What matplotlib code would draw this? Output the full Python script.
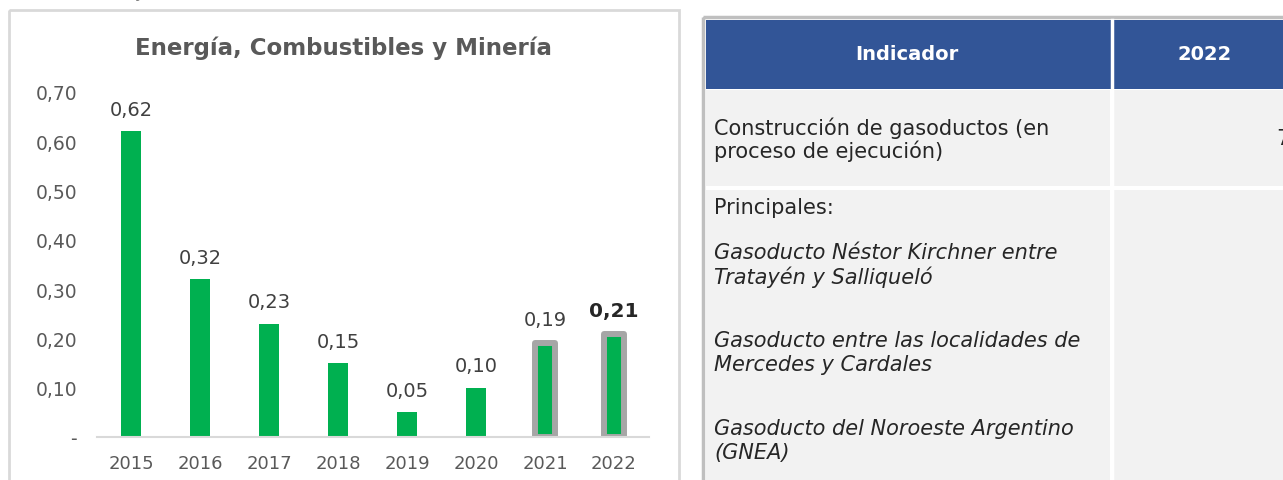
import matplotlib
matplotlib.use("Agg")
import matplotlib.pyplot as plt
from matplotlib.patches import Rectangle

# Data
years = ["2015", "2016", "2017", "2018", "2019", "2020", "2021", "2022"]
values = [0.62, 0.32, 0.23, 0.15, 0.05, 0.10, 0.19, 0.21]
highlight = [False, False, False, False, False, False, True, True]
yticks = [0, 0.1, 0.2, 0.3, 0.4, 0.5, 0.6, 0.7]
ytick_labels = ["-", "0,10", "0,20", "0,30", "0,40", "0,50", "0,60", "0,70"]
title = "Energía, Combustibles y Minería"

header = ["Indicador", "2022"]
row1_text = ["Construcción de gasoductos (en", "proceso de ejecución)"]
row1_value = "7"
row2_title = "Principales:"
row2_items = [
    ["Gasoducto Néstor Kirchner entre", "Tratayén y Salliqueló"],
    ["Gasoducto entre las localidades de", "Mercedes y Cardales"],
    ["Gasoducto del Noroeste Argentino", "(GNEA)"],
]

# Colors
green = "#00b050"
outline = "#a6a6a6"
text_gray = "#595959"
blue = "#325597"
cell_gray = "#f2f2f2"

W, H = 1283, 481
fig = plt.figure(figsize=(W / 100, H / 100), dpi=100)
plt.rcParams["font.family"] = ["DejaVu Sans"]

# background layer in pixel coords
bg = fig.add_axes([0, 0, 1, 1])
bg.set_xlim(0, W)
bg.set_ylim(H, 0)
bg.axis("off")

# caption cut at the top edge, as in the source
bg.text(10, 1, "o sobre el PIB y en indicadores físicos", fontsize=12.5,
        color="#7f7f7f", ha="left", va="bottom")

# left panel frame
bg.add_patch(Rectangle((9, 11), 670, 480, fill=False, ec="#d9d9d9", lw=2))

# table
bg.add_patch(Rectangle((703, 18), 700, 480, fill=False, ec="#bfbfbf", lw=2.5))
bg.add_patch(Rectangle((706, 21), 600, 69, fc=blue, ec="none"))
bg.add_patch(Rectangle((706, 91), 404, 96, fc=cell_gray, ec="none"))
bg.add_patch(Rectangle((1114, 91), 200, 96, fc=cell_gray, ec="none"))
bg.add_patch(Rectangle((706, 191), 404, 300, fc=cell_gray, ec="none"))
bg.add_patch(Rectangle((1114, 191), 200, 300, fc=cell_gray, ec="none"))
bg.plot([706, 1283], [188.5, 188.5], color="white", lw=1.5, ls=(0, (3, 2)))
bg.plot([1112, 1112], [21, 481], color="white", lw=2.5)

bg.text(907, 55, header[0], color="white", fontsize=14, fontweight="bold",
        ha="center", va="center")
bg.text(1205, 55, header[1], color="white", fontsize=14, fontweight="bold",
        ha="center", va="center")

cell_kw = dict(color="#262626", fontsize=15, ha="left", va="center")
bg.text(714, 128, row1_text[0], **cell_kw)
bg.text(714, 151, row1_text[1], **cell_kw)
bg.text(1276, 139, row1_value, **cell_kw)
bg.text(714, 208, row2_title, **cell_kw)
for i, item in enumerate(row2_items):
    y0 = 253 + i * 88
    bg.text(714, y0, item[0], style="italic", **cell_kw)
    bg.text(714, y0 + 24, item[1], style="italic", **cell_kw)

# bar chart
ax = fig.add_axes([96.5 / W, 43 / H, 552 / W, 345 / H])
ax.set_facecolor("none")
x = list(range(len(years)))
bars = ax.bar(x, values, width=0.3, color=green, zorder=2)
for b, h in zip(bars, highlight):
    if h:
        b.set_edgecolor(outline)
        b.set_linewidth(4.3)
        b.set_joinstyle("round")

for i, v in enumerate(values):
    lab = f"{v:.2f}".replace(".", ",")
    last = i == len(values) - 1
    ax.annotate(lab, (i, v), xytext=(0, 9 if not highlight[i] else 10),
                textcoords="offset points", ha="center", va="bottom",
                fontsize=14.5 if last else 14,
                color="#262626" if last else "#404040",
                fontweight="semibold" if last else "normal")

ax.set_xlim(-0.5, len(years) - 0.5)
ax.set_ylim(0, 0.7)
ax.set_yticks(yticks)
ax.set_yticklabels(ytick_labels)
ax.set_xticks(x)
ax.set_xticklabels(years)
ax.tick_params(axis="both", length=0, labelcolor=text_gray)
ax.tick_params(axis="y", pad=14, labelsize=13.5)
ax.tick_params(axis="x", pad=12, labelsize=13)
for s in ["top", "right", "left"]:
    ax.spines[s].set_visible(False)
ax.spines["bottom"].set_color("#d9d9d9")
ax.spines["bottom"].set_linewidth(1.5)

fig.text(343.5 / W, 1 - 48 / H, title, fontsize=16.5, fontweight="bold",
         color=text_gray, ha="center", va="center")

fig.savefig("out.png", dpi=100)
